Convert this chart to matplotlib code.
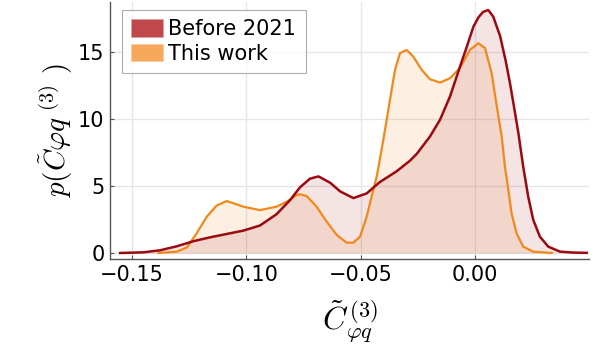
import matplotlib
matplotlib.use("Agg")
import matplotlib.pyplot as plt
from matplotlib.patches import Patch

# Distribution of C_phi_q^(3): earlier fits vs. this work
before_x = [-0.1553, -0.145, -0.1378, -0.1305, -0.1232, -0.1159, -0.1086, -0.1014,
            -0.0941, -0.0868, -0.0809, -0.0766, -0.0722, -0.0685, -0.0634, -0.059,
            -0.0532, -0.0474, -0.0416, -0.0343, -0.0284, -0.0255, -0.0197, -0.0153,
            -0.0109, -0.0066, -0.0036, -0.0007, 0.0015, 0.0035, 0.0058, 0.008,
            0.011, 0.0135, 0.0153, 0.0168, 0.019, 0.0211, 0.0233, 0.0255,
            0.0284, 0.0321, 0.0372, 0.043, 0.0489]
before_y = [0.0, 0.05, 0.2, 0.5, 0.88, 1.17, 1.42, 1.67,
            2.05, 2.9, 3.95, 4.9, 5.55, 5.72, 5.25, 4.6,
            4.1, 4.45, 5.3, 6.1, 6.9, 7.4, 8.7, 9.95,
            11.7, 13.9, 15.4, 16.9, 17.6, 18.0, 18.15, 17.65,
            16.2, 14.3, 12.7, 11.2, 8.95, 6.45, 4.2, 2.47,
            1.22, 0.47, 0.1, 0.03, 0.01]

this_x = [-0.1385, -0.1305, -0.126, -0.1218, -0.1174, -0.113, -0.1086, -0.1014,
          -0.0941, -0.0868, -0.0824, -0.078, -0.0766, -0.0737, -0.0693, -0.0649,
          -0.0605, -0.0562, -0.0532, -0.0503, -0.0474, -0.0445, -0.043, -0.0401,
          -0.0372, -0.035, -0.0328, -0.0299, -0.027, -0.0233, -0.0197, -0.0153,
          -0.0109, -0.0066, -0.0022, 0.0015, 0.0044, 0.0073, 0.0095, 0.0117,
          0.0131, 0.0146, 0.016, 0.0182, 0.0211, 0.0255, 0.0336]
this_y = [0.0, 0.1, 0.42, 1.47, 2.7, 3.55, 3.88, 3.46,
          3.2, 3.46, 3.83, 4.33, 4.38, 4.26, 3.46, 2.34,
          1.35, 0.77, 0.77, 1.22, 2.71, 4.71, 5.7, 8.45,
          11.43, 13.68, 14.93, 15.17, 14.67, 13.68, 12.98, 12.73,
          13.06, 13.8, 15.17, 15.67, 15.3, 13.43, 11.0, 8.7,
          6.45, 4.71, 2.97, 1.47, 0.47, 0.1, 0.0]

labels = ["Before 2021", "This work"]
xticks = [-0.15, -0.10, -0.05, 0.00]
xtick_labels = ["\u22120.15", "\u22120.10", "\u22120.05", "0.00"]
yticks = [0, 5, 10, 15]

red = "#9b0a10"
orange = "#f0891a"

plt.rcParams["mathtext.fontset"] = "cm"
plt.rcParams["font.family"] = ["DejaVu Sans"]

fig = plt.figure(figsize=(6.16, 3.57), dpi=100)
ax = fig.add_axes([0.1786, 0.2745, 0.7776, 0.7200])

ax.fill_between(this_x, 0, this_y, color=orange, alpha=0.12, linewidth=0, zorder=2)
ax.fill_between(before_x, 0, before_y, color=red, alpha=0.11, linewidth=0, zorder=2)
ax.plot(this_x, this_y, color=orange, linewidth=1.6, zorder=3)
ax.plot(before_x, before_y, color=red, linewidth=1.8, zorder=4)

ax.set_xlim(-0.1597, 0.0499)
ax.set_ylim(-0.45, 18.75)
ax.set_xticks(xticks)
ax.set_xticklabels(xtick_labels)
ax.set_yticks(yticks)
ax.tick_params(axis="both", direction="in", length=3, width=0.8, color="#555555",
               labelsize=15, pad=4)
ax.grid(True, color="#e6e6e6", linewidth=1.0, zorder=0)
ax.set_axisbelow(True)
for side in ("top", "right"):
    ax.spines[side].set_visible(False)
for side in ("left", "bottom"):
    ax.spines[side].set_color("#555555")
    ax.spines[side].set_linewidth(1.0)

ax.set_xlabel(r"$\tilde{C}^{\,(3)}_{\varphi q}$", fontsize=23, labelpad=10)
ax.set_ylabel(r"$p(\tilde{C}\varphi q^{\ (3)}\ )$", fontsize=21, labelpad=2)

handles = [Patch(facecolor="#c0474b", edgecolor="#d9a0a0", linewidth=0.5),
           Patch(facecolor="#f7a95b", edgecolor="#f7c9a0", linewidth=0.5)]
leg = ax.legend(handles, labels, loc="upper left", bbox_to_anchor=(0.024, 0.97),
                fontsize=15, frameon=True, fancybox=False, edgecolor="#999999",
                handlelength=1.55, handleheight=0.9, handletextpad=0.25,
                labelspacing=0.22, borderpad=0.45, borderaxespad=0)
leg.get_frame().set_linewidth(0.8)

fig.savefig("out.png", dpi=100)
